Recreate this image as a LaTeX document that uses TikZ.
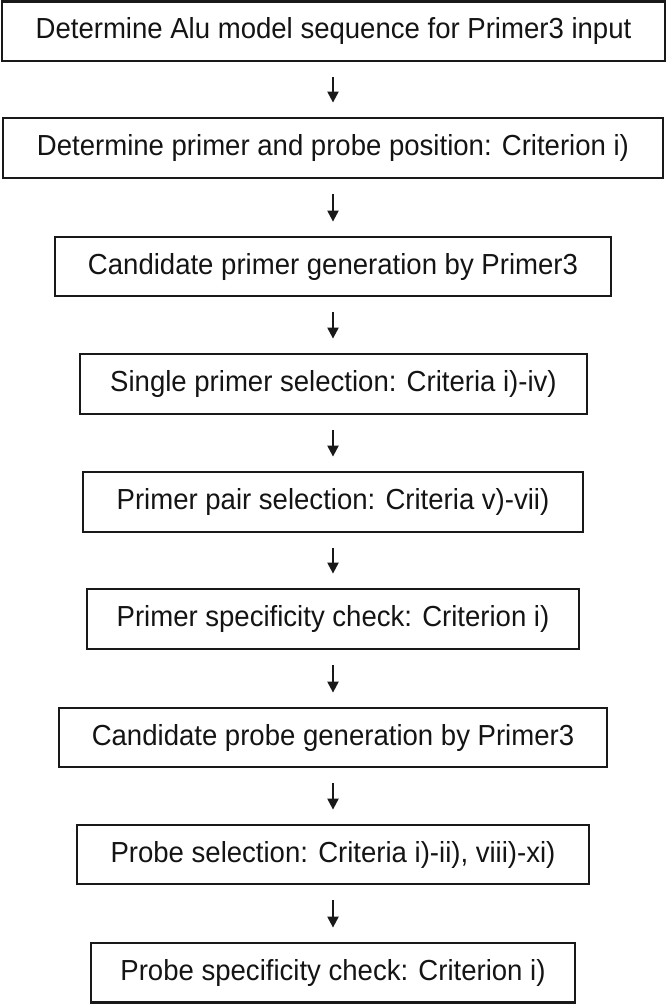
\documentclass[tikz,border=0pt]{standalone}
\usepackage{fontspec}
\setmainfont{Liberation Sans}[FakeStretch=0.95]
\usetikzlibrary{arrows.meta}
\begin{document}
\begin{tikzpicture}[x=1pt,y=-1pt,
  stepbox/.style={draw=black!90,line width=2.8pt,rectangle,inner sep=0pt,
    font=\fontsize{29}{33}\selectfont,text=black!92},
  arr/.style={draw=black!90,line width=2.2pt,-{Triangle[length=11pt,width=11pt]}}]
\useasboundingbox (0,0) rectangle (666,1004);
\fill[white] (0,0) rectangle (666,1004);
\newcommand{\mybox}[6]{%
  \node[stepbox,minimum width={#4-#2},minimum height={#5-#3}] (#1) at ({(#2+#4)/2},{(#3+#5)/2}) {#6};}
\mybox{b1}{2}{1.5}{665}{61}{Determine Alu model sequence for Primer3 input}
\mybox{b2}{3}{118}{663}{178}{Determine primer and probe position: Criterion i)}
\mybox{b3}{55}{237}{611}{296}{Candidate primer generation by Primer3}
\mybox{b4}{80}{354}{587}{414}{Single primer selection: Criteria i)-iv)}
\mybox{b5}{83}{472}{583}{532}{Primer pair selection: Criteria v)-vii)}
\mybox{b6}{87}{589}{579}{649}{Primer specificity check: Criterion i)}
\mybox{b7}{59}{708}{607}{767}{Candidate probe generation by Primer3}
\mybox{b8}{77}{825}{589}{884}{Probe selection: Criteria i)-ii), viii)-xi)}
\mybox{b9}{91}{943}{575}{1002.5}{Probe specificity check: Criterion i)}
\coordinate (ax) at (333,0);
\foreach \a/\b in {b1/b2,b2/b3,b3/b4,b4/b5,b5/b6,b6/b7,b7/b8,b8/b9}{
  \draw[arr] ([yshift=-15pt]ax |- \a.south) -- ([yshift=14pt]ax |- \b.north);
}
\end{tikzpicture}
\end{document}
